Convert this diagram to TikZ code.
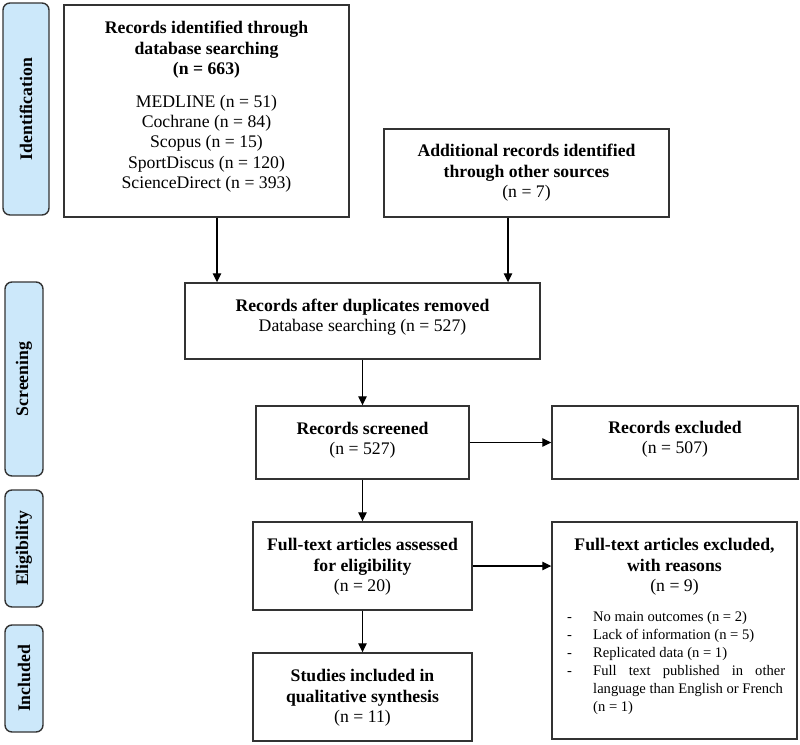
\documentclass[tikz,border=0pt]{standalone}
\usepackage{fontspec}
\setmainfont{Liberation Serif}
\usetikzlibrary{arrows.meta}
\newcommand\bigf{\fontsize{17.7}{20.4}\selectfont}
\newcommand\bulf{\fontsize{14.6}{17.9}\selectfont}
\definecolor{sideblue}{RGB}{204,232,250}
\begin{document}
\begin{tikzpicture}[x=1pt,y=-1pt,
 box/.style={draw=black!80, line width=1.4pt, inner sep=0pt},
 side/.style={draw=black!80, fill=sideblue, line width=1.4pt, rounded corners=7pt, rotate=90, inner sep=0pt, font=\bigf\bfseries},
 txt/.style={align=center, inner sep=0pt, font=\bigf},
 arr/.style={line width=1.2pt, draw=black, -{Triangle[length=9pt,width=8.5pt]}}]
\useasboundingbox (0,0) rectangle (800,744);

% side labels
\node[side, minimum width=212, minimum height=46] (ident) at (26,109) {Identification};
\node[side, minimum width=194, minimum height=38] (screen) at (24,379) {Screening};
\node[side, minimum width=117, minimum height=38] (elig) at (24,548.5) {Eligibility};
\node[side, minimum width=107, minimum height=38] (incl) at (24,678.5) {Included};

% boxes
\node[box, minimum width=285, minimum height=212] (db) at (206.5,111) {};
\node[box, minimum width=285, minimum height=88] (add) at (526.5,173) {};
\node[box, minimum width=355, minimum height=76] (dup) at (362.5,321) {};
\node[box, minimum width=213, minimum height=73] (scr) at (362.5,442.5) {};
\node[box, minimum width=246, minimum height=73] (exc) at (675,442.5) {};
\node[box, minimum width=219, minimum height=88] (ass) at (362.5,566) {};
\node[box, minimum width=219, minimum height=88] (stu) at (362.5,697) {};
\node[box, minimum width=245, minimum height=217] (fte) at (674.5,630.5) {};

% texts
\node[txt] (dbt) at (206.5,107) {\textbf{Records identified through}\\\textbf{database searching}\\\textbf{(n = 663)}\\[12pt]MEDLINE (n = 51)\\Cochrane (n = 84)\\Scopus (n = 15)\\SportDiscus (n = 120)\\ScienceDirect (n = 393)};
\node[txt] (addt) at (526.5,173) {\textbf{Additional records identified}\\\textbf{through other sources}\\(n = 7)};
\node[txt] (dupt) at (362.5,317) {\textbf{Records after duplicates removed}\\Database searching (n = 527)};
\node[txt] (scrt) at (362.5,440.5) {\textbf{Records screened}\\(n = 527)};
\node[txt] (exct) at (675,439) {\textbf{Records excluded}\\(n = 507)};
\node[txt] (asst) at (362.5,567) {\textbf{Full-text articles assessed}\\\textbf{for eligibility}\\(n = 20)};
\node[txt] (stut) at (362.5,698) {\textbf{Studies included in}\\\textbf{qualitative synthesis}\\(n = 11)};
\node[txt] (ftet) at (674.5,567) {\textbf{Full-text articles excluded,}\\\textbf{with reasons}\\(n = 9)};
\node[align=left, inner sep=0pt, font=\bulf, anchor=west] (reasons) at (567,663)
 {\makebox[26pt][l]{-}No main outcomes (n = 2)\\
  \makebox[26pt][l]{-}Lack of information (n = 5)\\
  \makebox[26pt][l]{-}Replicated data (n = 1)\\
  \makebox[26pt][l]{-}\makebox[192pt][s]{Full text published in other}\\
  \hspace*{26pt}language than English or French\\
  \hspace*{26pt}(n = 1)};

% connectors
\coordinate (a1) at ([xshift=10.5pt]db.south);
\coordinate (a2) at ([xshift=-18.5pt]add.south);
\draw[arr] (a1) -- (a1 |- dup.north);
\draw[arr] (a2) -- (a2 |- dup.north);
\draw[arr] (dup.south) -- (scr.north);
\draw[arr] (scr.east) -- (exc.west);
\draw[arr] (scr.south) -- (ass.north);
\draw[arr] (ass.east) -- (ass.east -| fte.west);
\draw[arr] (ass.south) -- (stu.north);
\end{tikzpicture}
\end{document}
